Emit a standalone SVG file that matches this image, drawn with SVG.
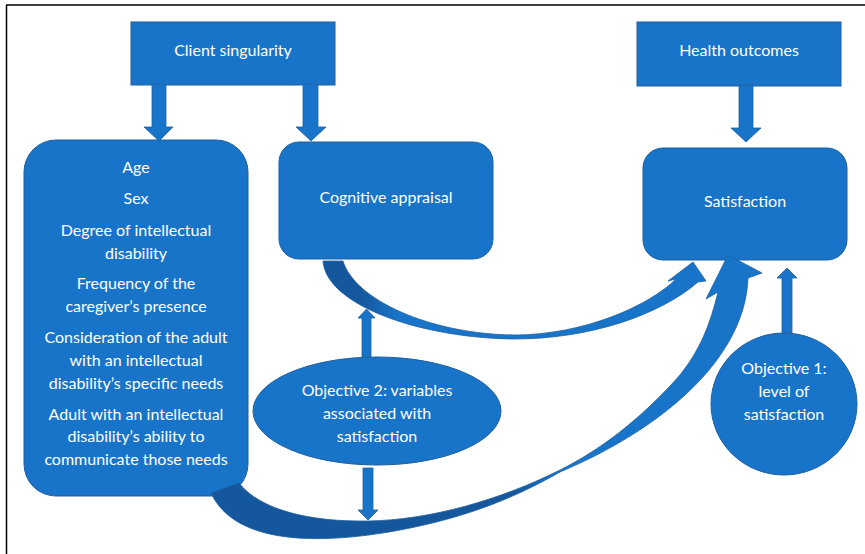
<svg xmlns="http://www.w3.org/2000/svg" width="865" height="554" viewBox="0 0 865 554">
<defs>
<style>
.box{fill:#1874c8;stroke:#1f5f9f;stroke-width:1}
.arr{fill:#1874c8;stroke:#1f5f9f;stroke-width:0.8}
.t{font-family:Lato,"Liberation Sans",sans-serif;font-size:16px;fill:#ffffff;text-anchor:middle}
</style>
<linearGradient id="g1" gradientUnits="userSpaceOnUse" x1="323" y1="0" x2="706" y2="0">
<stop offset="0" stop-color="#14579c"/><stop offset="0.09" stop-color="#14579c"/><stop offset="0.2" stop-color="#1874c8"/><stop offset="1" stop-color="#1874c8"/>
</linearGradient>
<linearGradient id="g2" gradientUnits="userSpaceOnUse" x1="211" y1="0" x2="762" y2="0">
<stop offset="0" stop-color="#14579c"/><stop offset="0.55" stop-color="#14579c"/><stop offset="0.63" stop-color="#1874c8"/><stop offset="1" stop-color="#1874c8"/>
</linearGradient>
</defs>
<rect width="865" height="554" fill="#ffffff"/>
<line x1="6" y1="5" x2="865" y2="5" stroke="#404040" stroke-width="2"/>
<line x1="6.5" y1="5" x2="6.5" y2="554" stroke="#000000" stroke-width="1.5"/>

<g id="client-singularity">
<rect class="box" x="131" y="22" width="204" height="63"/>
<text class="t" x="233" y="55.5">Client singularity</text>
</g>
<g id="health-outcomes">
<rect class="box" x="637" y="22" width="204" height="64"/>
<text class="t" x="739" y="55.5">Health outcomes</text>
</g>
<g id="client-variables">
<rect class="box" x="24" y="140" width="224" height="356" rx="32"/>
<text class="t" x="136" y="172.5">Age</text>
<text class="t" x="136" y="203.5">Sex</text>
<text class="t" x="136" y="235.5">Degree of intellectual</text>
<text class="t" x="136" y="258.5">disability</text>
<text class="t" x="136" y="288.5">Frequency of the</text>
<text class="t" x="136" y="311.5">caregiver’s presence</text>
<text class="t" x="136" y="342.5">Consideration of the adult</text>
<text class="t" x="136" y="365.5">with an intellectual</text>
<text class="t" x="136" y="388.5">disability’s specific needs</text>
<text class="t" x="136" y="419.5">Adult with an intellectual</text>
<text class="t" x="136" y="441.5">disability’s ability to</text>
<text class="t" x="136" y="464.5">communicate those needs</text>
</g>
<g id="cognitive-appraisal">
<rect class="box" x="279" y="142" width="214" height="117" rx="20"/>
<text class="t" x="386" y="202.5">Cognitive appraisal</text>
</g>
<g id="satisfaction">
<rect class="box" x="643" y="148" width="204" height="112" rx="20"/>
<text class="t" x="745" y="206.5">Satisfaction</text>
</g>
<g id="objective-2">
<ellipse class="box" cx="377" cy="411" rx="124" ry="54"/>
<text class="t" x="377" y="395.5">Objective 2: variables</text>
<text class="t" x="377" y="418.5">associated with</text>
<text class="t" x="377" y="441.5">satisfaction</text>
</g>
<g id="objective-1">
<ellipse class="box" cx="784" cy="404" rx="73" ry="71"/>
<text class="t" x="784" y="373.5">Objective 1:</text>
<text class="t" x="784" y="396.5">level of</text>
<text class="t" x="784" y="419.5">satisfaction</text>
</g>

<g id="connectors">
<polygon class="arr" points="152,84 166,84 166,127 173,127 159,141 144,127 152,127"/>
<polygon class="arr" points="303,84 318,84 318,127 326,127 311,141 296,127 303,127"/>
<polygon class="arr" points="739,85 753,85 753,128 761,128 746,142 731,128 739,128"/>
<polygon class="arr" points="362,357 371,357 371,318 375,318 366.5,309 358,318 362,318"/>
<polygon class="arr" points="363,468 373,468 373,510 378,510 368,520 358,510 363,510"/>
<polygon class="arr" points="782,333 792,333 792,278 797,278 787,268 777,278 782,278"/>
<path fill="url(#g1)" stroke="#1f5f9f" stroke-width="0.8" d="M323,261 C326,305 420,338 514,339 C590,339 660,315 698,282 L706,281 L693,262 L668,281 L676,279 C650,305 585,335 514,335 C430,334 355,300 343,261 Z"/>
<path fill="url(#g2)" stroke="#1f5f9f" stroke-width="0.8" d="M211,493 C235,545 320,545 400,530 C470,517 520,495 560,472 C660,430 745,360 748,278 L762,273 L728,255 L706,299 L718,292 C710,325 700,350 680,375 C640,420 600,450 560,470 C500,500 430,520 368,521 C310,522 260,510 239,483 Z"/>
</g>
</svg>
